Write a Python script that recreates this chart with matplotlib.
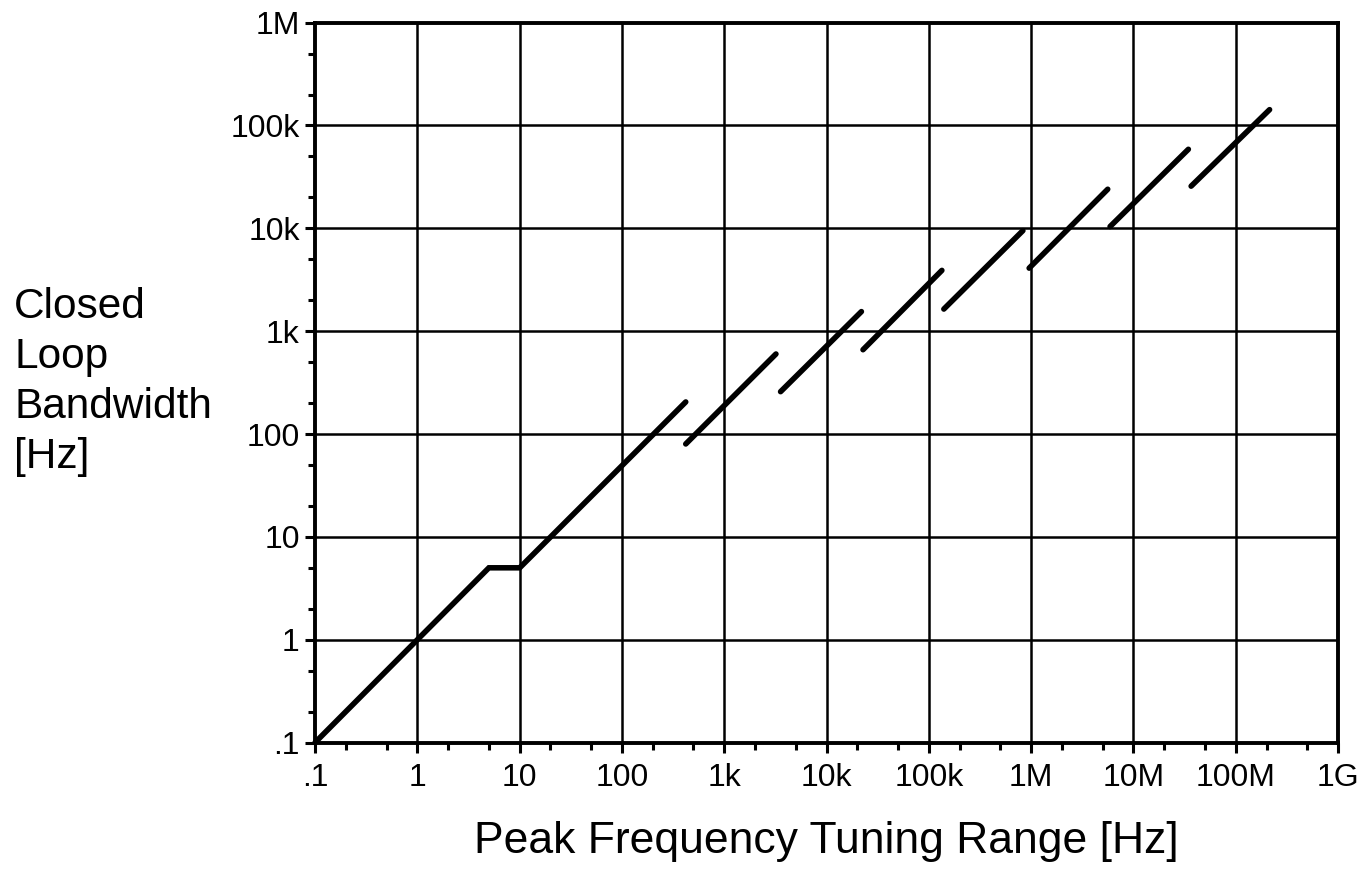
import matplotlib
matplotlib.use('Agg')
import matplotlib.pyplot as plt
from matplotlib.ticker import FixedLocator, FixedFormatter

plt.rcParams['font.family'] = ['Liberation Sans', 'DejaVu Sans']

# Closed loop bandwidth vs peak tuning range, one list pair per drawn segment
seg_x = [
    [0.1, 5, 10, 420],
    [420, 3200],
    [3550, 21900],
    [22700, 134000],
    [140000, 830000],
    [955000, 5.6e6],
    [5.9e6, 3.44e7],
    [3.66e7, 2.14e8],
]
seg_y = [
    [0.1, 5, 5, 205],
    [80, 600],
    [258, 1550],
    [660, 3900],
    [1640, 9500],
    [4100, 24000],
    [10400, 58700],
    [25700, 142600],
]

x_ticks = [1e-1, 1e0, 1e1, 1e2, 1e3, 1e4, 1e5, 1e6, 1e7, 1e8, 1e9]
x_labels = ['.1', '1', '10', '100', '1k', '10k', '100k', '1M', '10M', '100M', '1G']
y_ticks = [1e-1, 1e0, 1e1, 1e2, 1e3, 1e4, 1e5, 1e6]
y_labels = ['.1', '1', '10', '100', '1k', '10k', '100k', '1M']

fig = plt.figure(figsize=(13.64, 8.71), dpi=100)
ax = fig.add_axes([0.231, 0.1475, 0.75, 0.8265])
ax.set_xscale('log')
ax.set_yscale('log')
ax.set_xlim(0.1, 1e9)
ax.set_ylim(0.1, 1e6)

# grid at each decade
for xv in x_ticks[1:-1]:
    ax.axvline(xv, color='black', lw=1.8, zorder=1)
for yv in y_ticks[1:-1]:
    ax.axhline(yv, color='black', lw=1.8, zorder=1)

for xs, ys in zip(seg_x, seg_y):
    ax.plot(xs, ys, color='black', lw=4, solid_capstyle='round',
            solid_joinstyle='miter', zorder=3, clip_on=False)

for s in ax.spines.values():
    s.set_linewidth(2.8)
    s.set_color('black')

ax.xaxis.set_major_locator(FixedLocator(x_ticks))
ax.xaxis.set_major_formatter(FixedFormatter(x_labels))
ax.yaxis.set_major_locator(FixedLocator(y_ticks))
ax.yaxis.set_major_formatter(FixedFormatter(y_labels))
x_minor = [m * 10.0 ** e for e in range(-1, 9) for m in (2, 5)]
y_minor = [m * 10.0 ** e for e in range(-1, 6) for m in (2, 5)]
ax.xaxis.set_minor_locator(FixedLocator(x_minor))
ax.yaxis.set_minor_locator(FixedLocator(y_minor))
ax.xaxis.set_minor_formatter(FixedFormatter([]))
ax.yaxis.set_minor_formatter(FixedFormatter([]))

ax.tick_params(axis='both', which='major', direction='out', length=7, width=2.2,
               labelsize=23, colors='black')
ax.tick_params(axis='both', which='minor', direction='out', length=5, width=2.2)
ax.tick_params(axis='x', which='major', pad=8)
ax.tick_params(axis='y', which='major', pad=4)

fig.text(0.0105, 0.5615, 'Closed\nLoop\nBandwidth\n[Hz]', fontsize=30.5,
         ha='left', va='center', linespacing=1.33)
fig.text(0.6055, 0.021, 'Peak Frequency Tuning Range [Hz]', fontsize=32,
         ha='center', va='baseline')

plt.savefig('out.png', dpi=100)
plt.close()
